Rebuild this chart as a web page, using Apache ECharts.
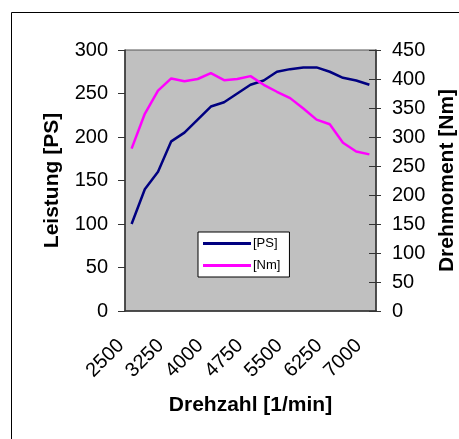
<!DOCTYPE html>
<html>
<head>
<meta charset="utf-8">
<script src="https://cdn.jsdelivr.net/npm/echarts@6/dist/echarts.min.js"></script>
<style>
  html, body { margin: 0; padding: 0; background: #fff; }
  #main { width: 459px; height: 439px; }
</style>
</head>
<body>
<div id="main"></div>
<script>
// Drehzahl in 1/min
const rpm = [2500, 2750, 3000, 3250, 3500, 3750, 4000, 4250, 4500, 4750,
  5000, 5250, 5500, 5750, 6000, 6250, 6500, 6750, 7000];
// Leistung [PS]
const ps = [100, 140, 160, 195, 205, 220, 235, 240, 250, 260,
  265, 275, 278, 280, 280, 275, 268, 265, 260];
// Drehmoment [Nm]
const nm = [280, 340, 380, 401, 396, 400, 410, 398, 400, 405,
  390, 378, 367, 349, 330, 322, 290, 275, 270];

const font = 'Liberation Sans, Arial, sans-serif';
const chart = echarts.init(document.getElementById('main'));

chart.setOption({
  animation: false,
  textStyle: { fontFamily: font },
  graphic: [{
    type: 'rect',
    shape: { x: 11.5, y: 12.5, width: 500, height: 500 },
    style: { fill: 'none', stroke: '#000', lineWidth: 1 },
    z: 0
  }],
  grid: {
    left: 125, top: 50, width: 251, height: 261,
    outerBoundsMode: 'none',
    containLabel: false,
    show: true, backgroundColor: '#c0c0c0', borderColor: '#555', borderWidth: 1
  },
  legend: {
    orient: 'vertical',
    left: 198, top: 232,
    padding: [5, 9, 5, 5],
    itemGap: 9,
    itemWidth: 48, itemHeight: 3,
    icon: 'rect',
    backgroundColor: '#fff',
    borderColor: '#000', borderWidth: 1,
    textStyle: { fontSize: 13, color: '#000', padding: [0, 0, 0, -3] },
    data: ['[PS]', '[Nm]']
  },
  xAxis: {
    type: 'category',
    data: rpm,
    name: 'Drehzahl [1/min]',
    nameLocation: 'middle',
    nameGap: 84,
    nameTextStyle: { fontSize: 21, fontWeight: 'bold', color: '#000' },
    axisLine: { lineStyle: { color: '#333', width: 1.5 } },
    axisTick: { interval: 0, length: 6, lineStyle: { color: '#333' } },
    axisLabel: {
      interval: 2, rotate: 45, fontSize: 20, color: '#000',
      margin: 21, padding: [0, 15, 0, 0]
    }
  },
  yAxis: [{
    type: 'value', min: 0, max: 300, interval: 50,
    position: 'left',
    name: 'Leistung [PS]',
    nameLocation: 'middle',
    nameGap: 62,
    nameRotate: 90,
    nameTextStyle: { fontSize: 21, fontWeight: 'bold', color: '#000' },
    splitLine: { show: false },
    axisLine: { show: true, lineStyle: { color: '#333', width: 1.5 } },
    axisTick: { show: true, length: 7, lineStyle: { color: '#333' } },
    axisLabel: { fontSize: 20, color: '#000', margin: 17 }
  }, {
    type: 'value', min: 0, max: 450, interval: 50,
    position: 'right',
    name: 'Drehmoment [Nm]',
    nameLocation: 'middle',
    nameGap: 61,
    nameRotate: 90,
    nameTextStyle: { fontSize: 21, fontWeight: 'bold', color: '#000' },
    splitLine: { show: false },
    axisLine: { show: true, lineStyle: { color: '#333', width: 1.5 } },
    axisTick: { show: true, length: 5, lineStyle: { color: '#333' } },
    axisLabel: { fontSize: 20, color: '#000', margin: 16 }
  }, {
    // inner half of the crossing ticks on the right axis
    type: 'value', min: 0, max: 450, interval: 50,
    position: 'right',
    splitLine: { show: false },
    axisLine: { show: false },
    axisTick: { show: true, inside: true, length: 7, lineStyle: { color: '#333' } },
    axisLabel: { show: false }
  }],
  series: [{
    name: '[PS]',
    type: 'line',
    yAxisIndex: 0,
    data: ps,
    showSymbol: false,
    color: '#000080',
    lineStyle: { width: 2.5, color: '#000080' }
  }, {
    name: '[Nm]',
    type: 'line',
    yAxisIndex: 1,
    data: nm,
    showSymbol: false,
    color: '#ff00ff',
    lineStyle: { width: 2.5, color: '#ff00ff' }
  }]
});
</script>
</body>
</html>
